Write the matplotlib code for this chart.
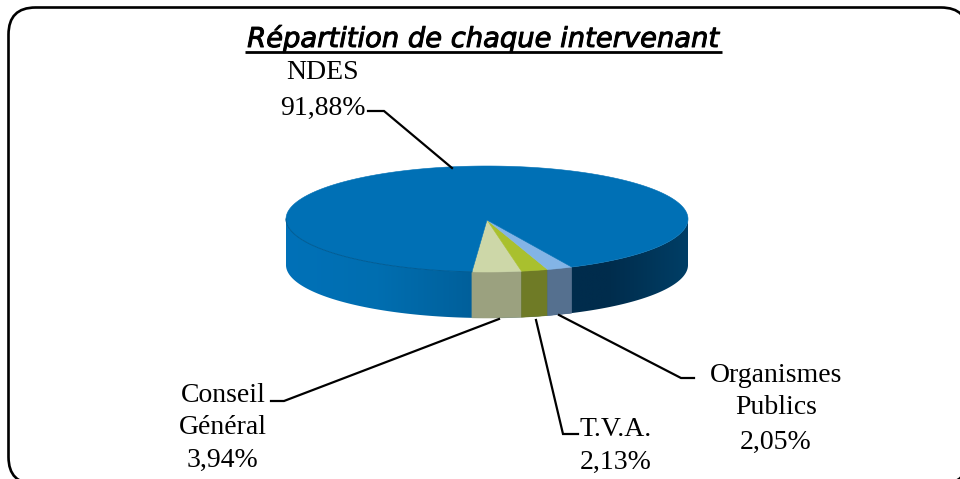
import numpy as np
import matplotlib
matplotlib.use("Agg")
import matplotlib.pyplot as plt
import matplotlib.patheffects as pe
from matplotlib.patches import Polygon, FancyBboxPatch
from matplotlib.colors import LinearSegmentedColormap

# --- data ---
categories = ["Conseil\nGénéral", "T.V.A.", "Organismes\nPublics", "NDES"]
values = [3.94, 2.13, 2.05, 91.88]
value_labels = ["3,94%", "2,13%", "2,05%", "91,88%"]
title = "Répartition de chaque intervenant"
top_colors = ["#CDD7A8", "#A9C02E", "#83B4E6", "#0070B5"]
side_colors = ["#9BA17F", "#6F7B26", "#55708F", None]

W, H = 960, 479
fig = plt.figure(figsize=(W / 100, H / 100), dpi=100, facecolor="white")
ax = fig.add_axes([0, 0, 1, 1])
ax.set_xlim(0, W)
ax.set_ylim(H, 0)
ax.axis("off")

# frame: its right and bottom edges run off the canvas
ax.add_patch(FancyBboxPatch((8.5, 7.5), 959.5, 476.5, boxstyle="round,pad=0,rounding_size=27",
                            fc="white", ec="black", lw=1.9, clip_on=True, zorder=0))

# pie geometry
cx, cy, a, b, depth = 487, 219, 201, 53, 46
start = -4.3


def pt(t, dy=0):
    r = np.radians(t)
    return np.column_stack([cx + a * np.sin(r), cy + b * np.cos(r) + dy])


# wedges
angle = start
spans = []
for v in values:
    sweep = v / sum(values) * 360
    spans.append((angle, angle + sweep))
    angle += sweep

# NDES side wall gradient, left to right
stops = [(0.00, "#0071B8"), (0.23, "#006EB0"), (0.47, "#005F9A"),
         (0.71, "#002C4C"), (0.80, "#002C4C"), (0.90, "#003558"), (1.00, "#003E66")]
cmap = LinearSegmentedColormap.from_list("side", stops)
grad = np.linspace(0, 1, 512)[None, :]
tt = np.linspace(-90, 90, 300)
wall = Polygon(np.vstack([pt(tt), pt(tt[::-1], depth)]), closed=True, fc="none", ec="none",
               transform=ax.transData)
ax.add_patch(wall)
im = ax.imshow(grad, cmap=cmap, extent=(cx - a, cx + a, cy + b + depth, cy), aspect="auto", zorder=2)
im.set_clip_path(wall)
ax.set_xlim(0, W)
ax.set_ylim(H, 0)

for (t0, t1), tc, sc in zip(spans, top_colors, side_colors):
    ts = np.linspace(t0, t1, 400 if t1 - t0 > 90 else 24)
    if sc is not None:
        poly = np.vstack([pt(ts), pt(ts[::-1], depth)])
        ax.add_patch(Polygon(poly, closed=True, fc=sc, ec=sc, lw=0.4, zorder=3))
    poly = np.vstack([[cx, cy + 1], pt(ts)])
    ax.add_patch(Polygon(poly, closed=True, fc=tc, ec=tc, lw=0.4, zorder=4))

# subtle rim on the front left
rim = pt(np.linspace(-90, start, 60))
ax.plot(rim[:, 0], rim[:, 1], color="#005C94", lw=0.7, zorder=5)

# title
ax.text(483.5, 47, title, ha="center", va="baseline", fontsize=19.7, style="italic",
        family="DejaVu Sans", color="black", zorder=6,
        path_effects=[pe.withStroke(linewidth=0.7, foreground="black")])
ax.plot([245, 722], [52, 52], color="black", lw=2.0, zorder=6, solid_capstyle="butt")

# leader lines
lead_ndes = [(368, 111), (384, 111), (452, 168)]
lead_cons = [(271, 401), (284, 401), (499, 319)]
lead_tva = [(578, 434), (563, 434), (536, 320)]
lead_org = [(694, 378), (681, 378), (559, 315)]
for seg in (lead_ndes, lead_cons, lead_tva, lead_org):
    xs, ys = zip(*seg)
    ax.plot(xs, ys, color="black", lw=1.6, zorder=6, solid_joinstyle="miter")

# labels
fs = 20
font = dict(family="Liberation Serif", color="black", zorder=7, va="center", fontsize=fs)
ax.text(323, 72, categories[3], ha="center", **font)
ax.text(323, 108, value_labels[3], ha="center", **font)
ax.text(223, 395, categories[0].split("\n")[0], ha="center", **font)
ax.text(223, 427, categories[0].split("\n")[1], ha="center", **font)
ax.text(222, 460, value_labels[0], ha="center", **font)
ax.text(616, 429, categories[1], ha="center", **font)
ax.text(616, 462, value_labels[1], ha="center", **font)
ax.text(776, 375, categories[2].split("\n")[0], ha="center", **font)
ax.text(776, 408, categories[2].split("\n")[1], ha="center", **font)
ax.text(776, 442, value_labels[2], ha="center", **font)

fig.savefig("out.png", dpi=100, facecolor="white")
